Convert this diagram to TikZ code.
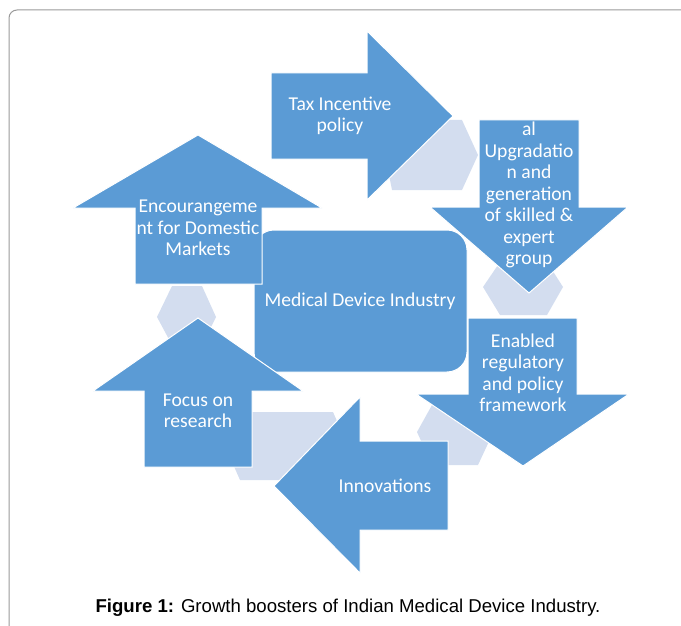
\documentclass[tikz,border=0pt]{standalone}
\usepackage{fontspec}
\setmainfont{Carlito}
\newfontfamily\captionfont{Liberation Sans}
\usetikzlibrary{positioning}

\definecolor{arrowblue}{HTML}{5B9BD5}
\definecolor{linkblue}{HTML}{D3DDEF}
\definecolor{framegray}{HTML}{9A9A9A}

\begin{document}
\begin{tikzpicture}[x=1pt,y=-1pt,
    arrowshape/.style={fill=arrowblue,draw=white,line width=1pt},
    linkshape/.style={fill=linkblue},
    label/.style={text=white,align=center,inner sep=0pt,font=\fontsize{19.6}{21.5}\selectfont}]
  \useasboundingbox (0,0) rectangle (681,626);

  % Cornice
  \draw[framegray,line width=1pt,rounded corners=8pt] (683,10) -- (9,10) -- (9,628);

  % Raccordi
  \fill[linkshape] (392,190) -- (462,190) -- (478,155) -- (462,120) -- (400,120) -- (385,155) -- cycle;
  \fill[linkshape] (483,287) -- (500,262) -- (547,262) -- (563,287) -- (547,315) -- (500,315) -- cycle;
  \fill[linkshape] (417,432) -- (432,405) -- (478,405) -- (492,435) -- (478,465) -- (432,465) -- cycle;
  \fill[linkshape] (240,412) -- (333,412) -- (348,446) -- (333,480) -- (240,480) -- (225,446) -- cycle;
  \fill[linkshape] (172,286) -- (202,286) -- (216,317) -- (202,345) -- (172,345) -- (157,317) -- cycle;

  % Centro
  \filldraw[arrowshape,rounded corners=20pt] (254,230) rectangle (467,372);
  \node[label] (industry) at (360,301) {Medical Device Industry};

  % Frecce
  \filldraw[arrowshape] (271,73) -- (367,73) -- (367,31) -- (453,116) -- (367,200) -- (367,159) -- (271,159) -- cycle;
  \filldraw[arrowshape] (479,120) -- (579,120) -- (579,207) -- (628,207) -- (529,293) -- (430,207) -- (479,207) -- cycle;
  \filldraw[arrowshape] (468,318) -- (577,318) -- (577,394) -- (629,394) -- (523,466) -- (416,394) -- (468,394) -- cycle;
  \filldraw[arrowshape] (448,441) -- (360,441) -- (360,397) -- (274,486) -- (360,573) -- (360,530) -- (448,530) -- cycle;
  \filldraw[arrowshape] (144,467) -- (144,391) -- (93,391) -- (198,318) -- (303,391) -- (252,391) -- (252,467) -- cycle;
  \filldraw[arrowshape] (135,284) -- (135,208) -- (73,208) -- (198,135) -- (322,208) -- (262,208) -- (262,284) -- cycle;

  % Testi
  \node[label] (tax) at (340,116) {Tax Incentive\\policy};
  \node[label] (upgrade) at (529,195) {al\\Upgradatio\\n and\\generation\\of skilled \&\\expert\\group};
  \node[label] (regulatory) at (523,373) {Enabled\\regulatory\\and policy\\framework};
  \node[label] (innovations) at (385,486) {Innovations};
  \node[label] (research) at (198,411) {Focus on\\research};
  \node[label] (markets) at (198,228) {Encourangeme\\nt for Domestic\\Markets};

  % Didascalia
  \node[font=\captionfont\fontsize{18.6}{22}\selectfont] (caption) at (348,608)
    {\textbf{Figure 1:} Growth boosters of Indian Medical Device Industry.};
\end{tikzpicture}
\end{document}
